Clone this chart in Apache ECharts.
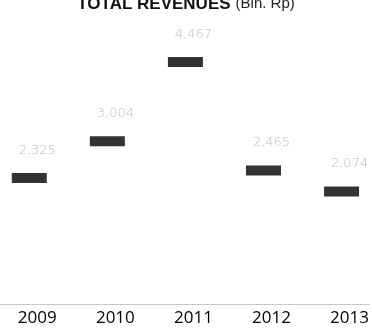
<!DOCTYPE html>
<html><head><meta charset="utf-8">
<script src="https://cdn.jsdelivr.net/npm/echarts@6/dist/echarts.min.js"></script>
<style>html,body{margin:0;padding:0;background:#fff}#c{width:372px;height:334px}</style>
</head><body><div id="c"></div>
<script>
const years = ['2009', '2010', '2011', '2012', '2013'];
const revenues = [2325, 3004, 4467, 2465, 2074];

const fmt = v => v.toLocaleString('en-US');
const chart = echarts.init(document.getElementById('c'));
chart.setOption({
  animation: false,
  backgroundColor: '#fff',
  title: {
    text: '{b|TOTAL REVENUES} {n|(Bln. Rp)}',
    left: 'center',
    top: -10,
    textStyle: {
      rich: {
        b: { fontFamily: 'Liberation Sans', fontWeight: 'bold', fontSize: 17, color: '#111' },
        n: { fontFamily: 'Liberation Sans', fontWeight: 'normal', fontSize: 15, color: '#222' }
      }
    }
  },
  grid: { left: 0, right: 0, top: 33, bottom: 30 },
  xAxis: {
    type: 'value',
    min: -0.375,
    max: 4.356,
    splitLine: { show: false },
    axisTick: { show: false },
    axisLine: { lineStyle: { color: '#bbb', type: 'dotted', width: 1 } },
    axisLabel: {
      customValues: [0, 1, 2, 3, 4],
      formatter: v => years[Math.round(v)],
      color: '#000', fontSize: 17, fontFamily: 'Open Sans', margin: 6, padding: [0, 0, 0, 16]
    }
  },
  yAxis: { type: 'value', min: 0, max: 5000, show: false, splitLine: { show: false } },
  series: [{
    type: 'scatter',
    data: revenues.map((v, i) => [i, v]),
    symbol: 'rect',
    symbolSize: [35, 10],
    itemStyle: { color: '#000' },
    label: {
      show: true,
      position: 'top',
      distance: 16,
      offset: [8, 0],
      color: '#aaa',
      fontSize: 13,
      fontFamily: 'DejaVu Sans',
      fontWeight: 'lighter',
      formatter: p => fmt(p.value[1])
    }
  }]
});
</script></body></html>
